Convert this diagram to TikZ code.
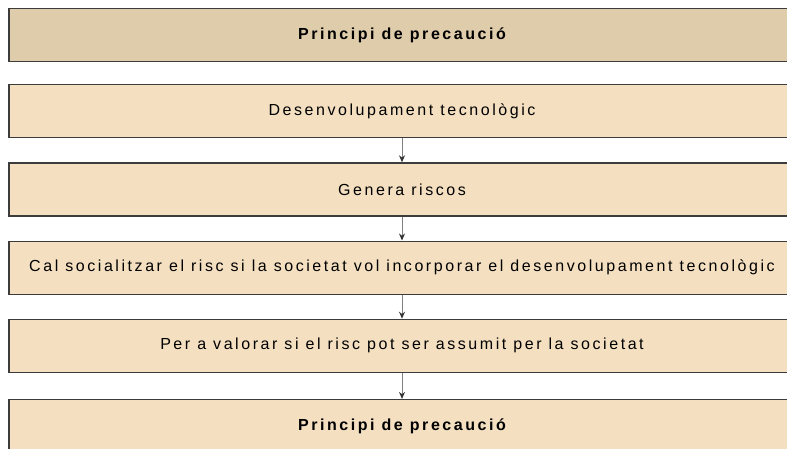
\documentclass[tikz,border=0pt]{standalone}
\usepackage{fontspec}
\setmainfont{Liberation Sans}[LetterSpace=16]
\usetikzlibrary{positioning}
\usetikzlibrary{arrows.meta}

\definecolor{headtan}{HTML}{DFCCAB}
\definecolor{boxtan}{HTML}{F4E0C1}
\definecolor{edgegray}{HTML}{3C3C3C}

\begin{document}
\begin{tikzpicture}[x=1pt,y=-1pt,node distance=24pt,
        stepbox/.style={draw=edgegray, line width=1.2pt, fill=boxtan, minimum width=786pt, minimum height=53pt, inner sep=0pt, font=\fontsize{16}{18}\selectfont},
        headbox/.style={stepbox, font=\fontsize{16}{18}\selectfont\bfseries},
        flow/.style={draw=gray, line width=1pt, -{Stealth[length=7pt,width=6pt,color=black!80]}}]
    \useasboundingbox (0,0) rectangle (787,448);
    \clip (0,0) rectangle (787,448);
        \node[headbox, fill=headtan] (title) at (402,35) {Principi de precauci\'o};
        \node[stepbox, below=22pt of title] (desen) {Desenvolupament tecnol\`ogic};
        \node[stepbox, below=of desen] (riscos) {Genera riscos};
        \node[stepbox, below=of riscos] (social) {Cal socialitzar el risc si la societat vol incorporar el desenvolupament tecnol\`ogic};
        \node[stepbox, below=of social] (valorar) {Per a valorar si el risc pot ser assumit per la societat};
        \node[headbox, below=26pt of valorar] (precau) {Principi de precauci\'o};
        % arrows between steps
        \draw[flow] (desen) -- (riscos);
        \draw[flow] (riscos) -- (social);
        \draw[flow] (social) -- (valorar);
        \draw[flow] (valorar) -- (precau);
\end{tikzpicture}
\end{document}
